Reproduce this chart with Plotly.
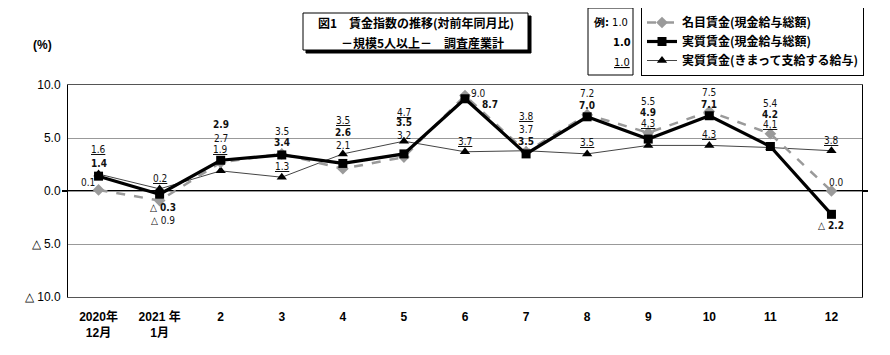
import plotly.graph_objects as go

# ---- data ----
categories = ["2020年<br>12月", "2021 年<br>1月", "2", "3", "4", "5", "6", "7", "8", "9", "10", "11", "12"]
nominal_total = [0.1, -0.9, 2.7, 3.5, 2.1, 3.2, 9.0, 3.7, 7.2, 5.5, 7.5, 5.4, 0.0]
real_total = [1.4, -0.3, 2.9, 3.4, 2.6, 3.5, 8.7, 3.5, 7.0, 4.9, 7.1, 4.2, -2.2]
real_fixed = [1.6, 0.2, 1.9, 1.3, 3.5, 4.7, 3.7, 3.8, 3.5, 4.3, 4.3, 4.1, 3.8]
ytick_vals = [-10, -5, 0, 5, 10]
ytick_text = ["△ 10.0", "△ 5.0", "0.0", "5.0", "10.0"]
series_names = ["名目賃金(現金給与総額)", "実質賃金(現金給与総額)", "実質賃金(きまって支給する給与)"]

# ---- label offsets (pixels, styling only) ----
nominal_off = [(-11, 7), (3, -20), (0, 24), (0, 22), (0, 23), (0, 22), (13, 2), (0, 22),
               (0, 21), (0, 31), (0, 19), (0, 30), (5, 9)]
real_off = [(0, 13), (3, -13), (0, 36), (0, 12), (0, 31), (0, 31), (25, -6), (0, 12),
            (0, 11), (0, 27), (0, 11), (0, 32), (0, -11)]
fixed_off = [(0, 25), (0, 10), (0, 21), (0, 11), (0, 33), (0, 29), (0, 10), (0, 34),
             (0, 11), (0, 22), (0, 11), (0, 23), (0, 10)]

# page offset (browser body margin) and target geometry in window pixels
OX, OY = 8, 8
WIN_W, WIN_H = 890, 355
PL, PR, PT, PB = 68, 862, 85, 297          # plot area edges in window pixels
W, H = WIN_W - OX, WIN_H - OY
ML, MR, MT, MB = PL - OX, WIN_W - PR, PT - OY, WIN_H - PB
PW, PH = PR - PL, PB - PT


def px(x):
    return (x - PL) / PW


def py(y):
    return (PB - y) / PH


def fmt(v):
    return f"{v:.1f}" if v >= 0 else f"△ {abs(v):.1f}"


JP = "Noto Sans CJK JP"
NARROW = "Liberation Sans Narrow, DejaVu Sans Condensed, Arial Narrow, sans-serif"
xs = list(range(len(categories)))

fig = go.Figure()
fig.add_trace(go.Scatter(
    x=xs, y=real_fixed, name=f"<b>{series_names[2]}</b>", mode="lines+markers", legendrank=3,
    line=dict(color="#444444", width=1),
    marker=dict(symbol="triangle-up", size=9, color="black")))
fig.add_trace(go.Scatter(
    x=xs, y=nominal_total, name=f"<b>{series_names[0]}</b>", mode="lines+markers", legendrank=1,
    line=dict(color="#9a9a9a", width=2.5, dash="dash"),
    marker=dict(symbol="diamond", size=9, color="#9a9a9a")))
fig.add_trace(go.Scatter(
    x=xs, y=real_total, name=f"<b>{series_names[1]}</b>", mode="lines+markers", legendrank=2,
    line=dict(color="black", width=3.2),
    marker=dict(symbol="square", size=9, color="black")))

ann = []
for i in xs:
    for vals, offs, style in ((nominal_total, nominal_off, "plain"),
                              (real_total, real_off, "bold"),
                              (real_fixed, fixed_off, "under")):
        t = fmt(vals[i])
        if style == "bold":
            t = f"<b>{t}</b>"
        elif style == "under":
            t = f"<u>{t}</u>"
        dx, dy = offs[i]
        ann.append(dict(x=i, y=vals[i], xref="x", yref="y", text=t, showarrow=False,
                        xanchor="center", yanchor="middle",
                        xshift=dx, yshift=dy, font=dict(family=NARROW, size=10, color="#111111")))


def paper_text(x, y, text, family, size):
    ann.append(dict(x=px(x), y=py(y), xref="paper", yref="paper", text=text, showarrow=False,
                    xanchor="center", yanchor="middle", align="center",
                    font=dict(family=family, size=size, color="black")))


# title box
paper_text(416, 23, "<b>図1　賃金指数の推移(対前年同月比)</b>", JP, 12)
paper_text(422, 42, "<b>－規模5人以上－　調査産業計</b>", JP, 12)
# example box
paper_text(610, 23, "<b>例:</b> 1.0", NARROW, 11)
paper_text(622, 43, "<b>1.0</b>", NARROW, 11)
paper_text(622, 63, "<u>1.0</u>", NARROW, 11)
# (%)
paper_text(42, 45, "<b>(%)</b>", "Liberation Sans, Arial", 12)

shapes = [
    dict(type="rect", xref="paper", yref="paper", x0=px(306), x1=px(531), y0=py(53), y1=py(16),
         fillcolor="black", line=dict(color="black", width=1), layer="below"),
    dict(type="rect", xref="paper", yref="paper", x0=px(303), x1=px(528), y0=py(50), y1=py(13),
         fillcolor="white", line=dict(color="black", width=1), layer="below"),
    dict(type="rect", xref="paper", yref="paper", x0=px(588), x1=px(633), y0=py(75), y1=py(8),
         fillcolor="white", line=dict(color="black", width=1), layer="below"),
    dict(type="line", xref="paper", yref="y", x0=px(62), x1=px(868), y0=0, y1=0,
         line=dict(color="black", width=2), layer="between"),
]

fig.update_layout(
    width=W, height=H, margin=dict(l=ML, r=MR, t=MT, b=MB, autoexpand=False),
    paper_bgcolor="white", plot_bgcolor="white",
    showlegend=True,
    legend=dict(x=px(641), y=py(7), xanchor="left", yanchor="top",
                bordercolor="black", borderwidth=1, bgcolor="white",
                font=dict(family=JP, size=12, color="black"),
                tracegroupgap=2, itemwidth=30),
    annotations=ann, shapes=shapes,
    xaxis=dict(type="linear", range=[-0.5, 12.5], tickvals=xs, ticktext=[f"<b>{c}</b>" for c in categories],
               showgrid=False, zeroline=False, showline=True, linecolor="#555555", linewidth=1,
               mirror=True, ticks="", automargin=False, ticklabelstandoff=9,
               tickfont=dict(family="Liberation Sans, " + JP, size=12, color="black")),
    yaxis=dict(range=[-10, 10], tickvals=ytick_vals, ticktext=ytick_text,
               showgrid=True, gridcolor="#999999", gridwidth=1, zeroline=False,
               showline=True, linecolor="black", linewidth=1, mirror=True, ticks="",
               ticklabelstandoff=4, automargin=False,
               tickfont=dict(family="Liberation Sans, Arial", size=12, color="black")),
)

fig.write_html("out.html")
